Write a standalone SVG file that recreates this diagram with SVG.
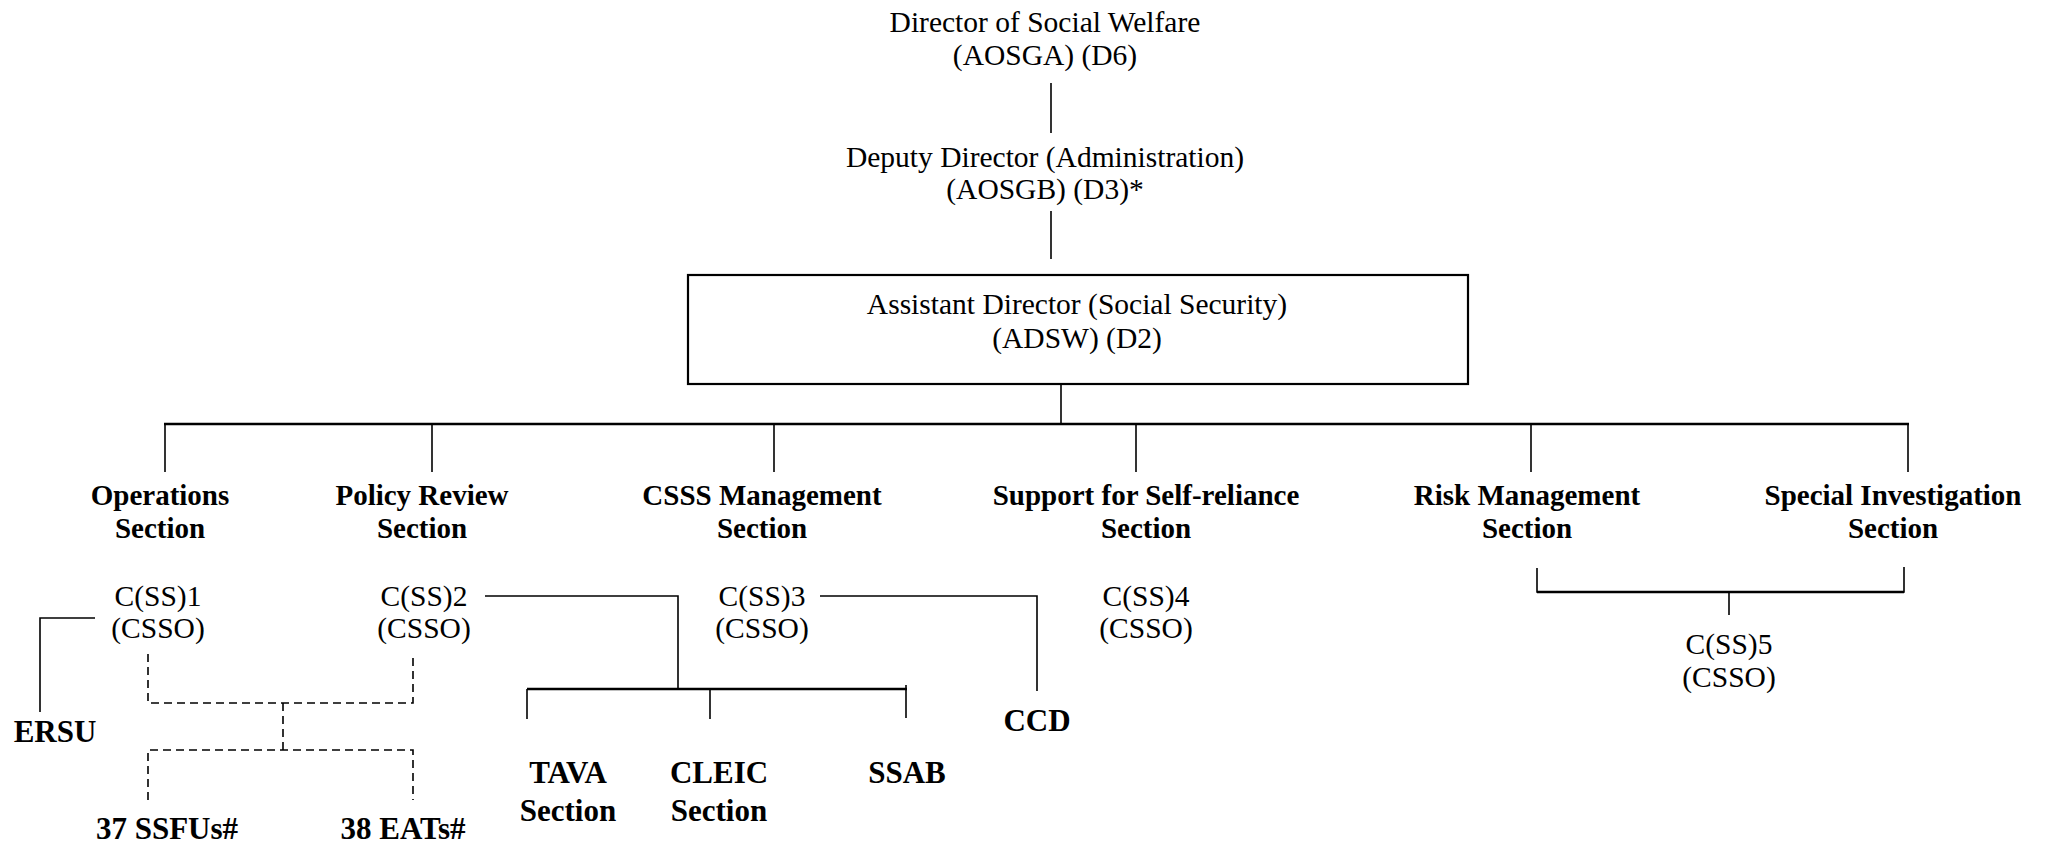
<svg xmlns="http://www.w3.org/2000/svg" width="2047" height="842" viewBox="0 0 2047 842">
<style>
text{font-family:"Liberation Serif","Times New Roman",serif;font-size:29.5px;fill:#000;text-anchor:middle}
.b{font-weight:bold;font-size:29px}
.bl{font-weight:bold;font-size:31px}
.ln{stroke:#000;stroke-width:1.6;fill:none}
.th{stroke:#000;stroke-width:2.6;fill:none}
.ds{stroke:#000;stroke-width:1.6;fill:none;stroke-dasharray:8 5}
.box{fill:#fff;stroke:#000;stroke-width:2.2}
</style>
<rect width="2047" height="842" fill="#fff"/>
<g id="connectors">
<line class="ln" x1="1051" y1="83" x2="1051" y2="133"/>
<line class="ln" x1="1051" y1="211" x2="1051" y2="259"/>
<line class="ln" x1="1061" y1="384" x2="1061" y2="424"/>
<line class="th" x1="164" y1="424" x2="1909" y2="424"/>
<line class="ln" x1="165" y1="424" x2="165" y2="472"/>
<line class="ln" x1="432" y1="424" x2="432" y2="472"/>
<line class="ln" x1="774" y1="424" x2="774" y2="472"/>
<line class="ln" x1="1136" y1="424" x2="1136" y2="472"/>
<line class="ln" x1="1531" y1="424" x2="1531" y2="472"/>
<line class="ln" x1="1908" y1="424" x2="1908" y2="472"/>
<polyline class="ln" points="95,618 40,618 40,712"/>
<polyline class="ds" points="148,654 148,703 413,703 413,654"/>
<line class="ds" x1="283" y1="703" x2="283" y2="750"/>
<polyline class="ds" points="148,800 148,750 413,750 413,800"/>
<polyline class="ln" points="485,596 678,596 678,690"/>
<line class="th" x1="527" y1="689" x2="907" y2="689"/>
<line class="ln" x1="527" y1="689" x2="527" y2="719"/>
<line class="ln" x1="710" y1="689" x2="710" y2="719"/>
<line class="ln" x1="906" y1="685" x2="906" y2="718"/>
<polyline class="ln" points="820,596 1037,596 1037,691"/>
<polyline class="ln" points="1537,568 1537,592 1904,592 1904,567"/>
<line class="th" x1="1537" y1="592" x2="1904" y2="592"/>
<line class="ln" x1="1729" y1="592" x2="1729" y2="615"/>
</g>
<g id="director">
<text x="1045" y="32">Director of Social Welfare</text>
<text x="1045" y="65">(AOSGA) (D6)</text>
</g>
<g id="deputy-director">
<text x="1045" y="167">Deputy Director (Administration)</text>
<text x="1045" y="199">(AOSGB) (D3)*</text>
</g>
<g id="assistant-director">
<rect class="box" x="688" y="275" width="780" height="109"/>
<text x="1077" y="314">Assistant Director (Social Security)</text>
<text x="1077" y="348">(ADSW) (D2)</text>
</g>
<g id="operations-section">
<text class="b" x="160" y="505">Operations</text>
<text class="b" x="160" y="538">Section</text>
</g>
<g id="policy-review-section">
<text class="b" x="422" y="505">Policy Review</text>
<text class="b" x="422" y="538">Section</text>
</g>
<g id="csss-management-section">
<text class="b" x="762" y="505">CSSS Management</text>
<text class="b" x="762" y="538">Section</text>
</g>
<g id="support-section">
<text class="b" x="1146" y="505">Support for Self-reliance</text>
<text class="b" x="1146" y="538">Section</text>
</g>
<g id="risk-management-section">
<text class="b" x="1527" y="505">Risk Management</text>
<text class="b" x="1527" y="538">Section</text>
</g>
<g id="special-investigation-section">
<text class="b" x="1893" y="505">Special Investigation</text>
<text class="b" x="1893" y="538">Section</text>
</g>
<g id="css1">
<text x="158" y="606">C(SS)1</text>
<text x="158" y="638">(CSSO)</text>
</g>
<g id="css2">
<text x="424" y="606">C(SS)2</text>
<text x="424" y="638">(CSSO)</text>
</g>
<g id="css3">
<text x="762" y="606">C(SS)3</text>
<text x="762" y="638">(CSSO)</text>
</g>
<g id="css4">
<text x="1146" y="606">C(SS)4</text>
<text x="1146" y="638">(CSSO)</text>
</g>
<g id="css5">
<text x="1729" y="654">C(SS)5</text>
<text x="1729" y="687">(CSSO)</text>
</g>
<g id="ersu"><text class="bl" x="55" y="742">ERSU</text></g>
<g id="ssfus"><text class="bl" x="167" y="839">37 SSFUs#</text></g>
<g id="eats"><text class="bl" x="403" y="839">38 EATs#</text></g>
<g id="tava-section">
<text class="bl" x="568" y="783">TAVA</text>
<text class="bl" x="568" y="821">Section</text>
</g>
<g id="cleic-section">
<text class="bl" x="719" y="783">CLEIC</text>
<text class="bl" x="719" y="821">Section</text>
</g>
<g id="ssab"><text class="bl" x="907" y="783">SSAB</text></g>
<g id="ccd"><text class="bl" x="1037" y="731">CCD</text></g>
</svg>
